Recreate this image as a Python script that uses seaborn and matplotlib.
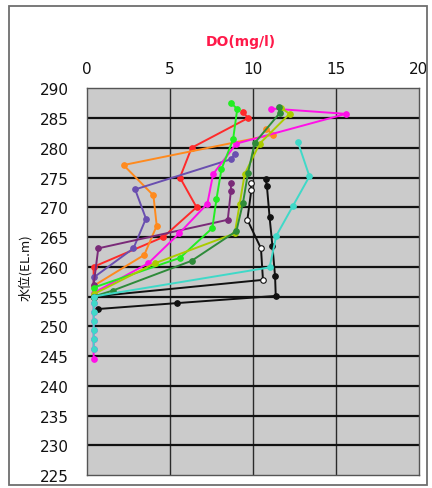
import matplotlib
matplotlib.use("Agg")
import matplotlib.pyplot as plt
from matplotlib.patches import Rectangle
import seaborn as sns
import pandas as pd

# Dissolved-oxygen vertical profiles (DO in mg/l against water level EL.m)
red_do = [9.4, 9.7, 6.3, 5.6, 6.6, 4.6, 0.4, 0.4]
red_el = [286.0, 285.0, 280.0, 275.0, 270.0, 265.0, 260.0, 255.0]

orange_do = [10.8, 11.2, 2.2, 4.0, 4.2, 3.45, 0.4, 0.4]
orange_el = [283.2, 282.2, 277.1, 272.0, 266.9, 262.0, 256.8, 255.0]

slate_do = [8.9, 8.7, 2.9, 3.55, 2.8, 0.4, 0.4]
slate_el = [279.0, 278.1, 273.0, 268.1, 263.1, 258.2, 255.0]

maroon_do = [8.67, 8.67, 8.48, 0.68, 0.4, 0.4]
maroon_el = [274.0, 272.8, 267.9, 263.1, 257.0, 255.0]

magenta_do = [11.1, 15.6, 9.0, 7.6, 7.25, 5.55, 3.7, 0.4,
              0.4, 0.4, 0.4, 0.4, 0.4, 0.4, 0.4]
magenta_el = [286.6, 285.7, 280.7, 275.6, 270.6, 265.6, 260.6, 255.6,
              253.9, 252.4, 250.9, 249.3, 247.9, 246.2, 244.5]

lime_do = [8.7, 9.05, 8.8, 8.1, 7.8, 7.55, 5.6, 0.4, 0.4]
lime_el = [287.5, 286.5, 281.4, 276.4, 271.4, 266.5, 261.5, 256.5, 255.0]

yg_do = [11.7, 12.2, 10.4, 9.5, 9.2, 8.9, 4.1, 0.4]
yg_el = [286.7, 285.7, 280.7, 275.6, 270.6, 265.6, 260.6, 255.4]

dkgreen_do = [11.55, 11.6, 10.1, 9.7, 9.4, 9.0, 6.3, 1.55, 0.4]
dkgreen_el = [286.8, 285.8, 280.8, 275.8, 270.8, 266.0, 261.0, 256.0, 255.0]

white_do = [9.85, 9.9, 9.66, 10.48, 10.6, 0.4]
white_el = [274.1, 272.9, 267.9, 263.1, 257.8, 255.0]

black_do = [10.76, 10.84, 11.0, 11.17, 11.33, 11.37, 5.45, 0.66]
black_el = [274.8, 273.5, 268.3, 263.5, 258.4, 255.1, 253.9, 252.9]

turq_do = [12.7, 13.4, 12.4, 11.4, 11.0, 0.4,
           0.4, 0.4, 0.4, 0.4, 0.4, 0.4]
turq_el = [281.0, 275.2, 270.2, 265.2, 259.9, 255.0,
           253.9, 252.4, 250.9, 249.3, 247.9, 246.2]

x_ticks = [0, 5, 10, 15, 20]
y_ticks = [225, 230, 235, 240, 245, 250, 255, 260, 265, 270, 275, 280, 285, 290]

series = [
    ("red", red_do, red_el, "#FF2A2A", "#FF2A2A"),
    ("orange", orange_do, orange_el, "#FF8A1E", "#FF8A1E"),
    ("slate", slate_do, slate_el, "#6A4FB0", "#6A4FB0"),
    ("maroon", maroon_do, maroon_el, "#7A2A78", "#7A2A78"),
    ("magenta", magenta_do, magenta_el, "#FF10E8", "#FF10E8"),
    ("lime", lime_do, lime_el, "#22EE22", "#22EE22"),
    ("yellowgreen", yg_do, yg_el, "#AACC00", "#AACC00"),
    ("darkgreen", dkgreen_do, dkgreen_el, "#2E8B3A", "#2E8B3A"),
    ("white", white_do, white_el, "#111111", "#FFFFFF"),
    ("black", black_do, black_el, "#111111", "#111111"),
    ("turquoise", turq_do, turq_el, "#3FD9C8", "#3FD9C8"),
]

sns.set_theme(style="white")
plt.rcParams["font.family"] = ["DejaVu Sans"]

fig = plt.figure(figsize=(4.32, 4.89), dpi=100)
ax = fig.add_axes([87 / 432, 1 - 476 / 489, (419 - 87) / 432, (476 - 89.3) / 489])
ax.set_facecolor("#CBCBCB")

for name, do, el, lc, fc in series:
    df = pd.DataFrame({"DO": do, "EL": el})
    sns.lineplot(data=df, x="DO", y="EL", sort=False, estimator=None, ax=ax,
                 color=lc, linewidth=1.4, marker="o", markersize=4.0,
                 markerfacecolor=fc, markeredgecolor=lc,
                 markeredgewidth=0.8, zorder=3)

ax.set_xlim(0, 20)
ax.set_ylim(225, 290)
ax.set_xticks(x_ticks)
ax.set_yticks(y_ticks)
ax.xaxis.tick_top()
ax.tick_params(axis="both", length=0, labelsize=11, colors="#111111")
ax.tick_params(axis="x", pad=9)
ax.tick_params(axis="y", pad=13)
ax.set_xlabel("")
ax.set_ylabel("")

for v in [5, 10, 15]:
    ax.axvline(v, color="#2A2A2A", lw=1.0, zorder=1)
for h in y_ticks[1:-1]:
    ax.axhline(h, color="#111111", lw=1.6, zorder=1)
for s in ax.spines.values():
    s.set_color("#555555")
    s.set_linewidth(1.0)
    s.set_visible(True)

fig.text(241 / 432, 1 - 42 / 489, "DO(mg/l)", color="#FF1A4A", fontsize=10,
         fontweight="bold", ha="center", va="center")
fig.text(25 / 432, 1 - 268 / 489, "水位(EL.m)", rotation=90, fontsize=9.5,
         ha="center", va="center", family=["Noto Sans CJK JP", "DejaVu Sans"],
         color="#111111")

fig.patches.append(Rectangle((9 / 432, 3 / 489), (427 - 9) / 432, (482 - 3) / 489,
                             transform=fig.transFigure, fill=False,
                             edgecolor="#6E6E6E", linewidth=1.3))

fig.savefig("out.png", dpi=100)
